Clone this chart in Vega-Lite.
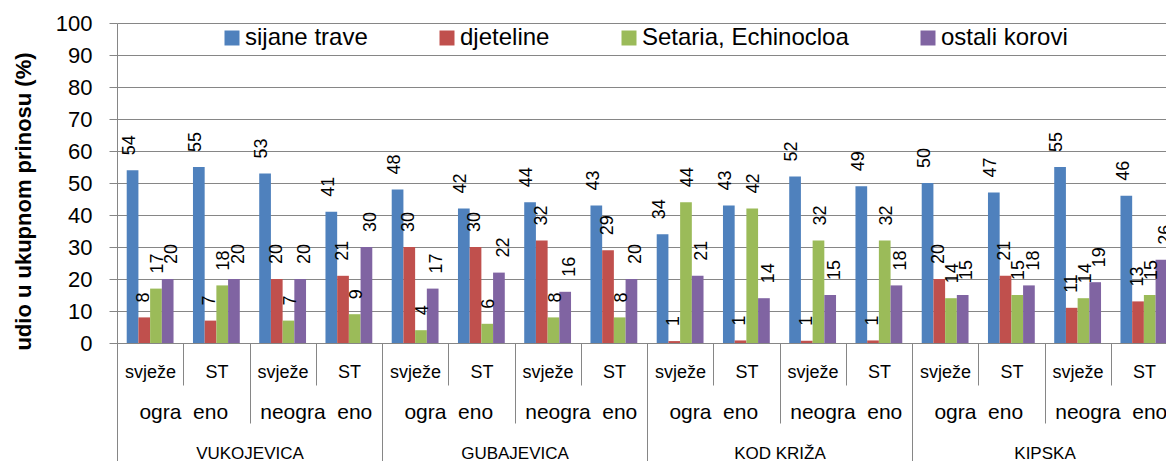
{
  "$schema": "https://vega.github.io/schema/vega-lite/v6.json",
  "width": 1060,
  "height": 320,
  "autosize": {"type": "none"},
  "padding": {"left": 117, "top": 23, "right": 0, "bottom": 118},
  "config": {
    "font": "Liberation Sans",
    "view": {"stroke": null},
    "axis": {"labelColor": "#000000", "titleColor": "#000000"},
    "axisQuantitative": {"tickCount": 10, "labelOverlap": false},
    "axisY": {"tickCount": 10, "labelOverlap": false},
    "legend": {"labelColor": "#000000"}
  },
  "datasets": {
    "d": [
      {"loc": "VUKOJEVICA", "fgroup": "VUKOJEVICA|ogra\u00a0\u00a0eno", "group": "VUKOJEVICA|o|svježe", "series": "sijane trave", "value": 54},
      {"loc": "VUKOJEVICA", "fgroup": "VUKOJEVICA|ogra\u00a0\u00a0eno", "group": "VUKOJEVICA|o|svježe", "series": "djeteline", "value": 8},
      {"loc": "VUKOJEVICA", "fgroup": "VUKOJEVICA|ogra\u00a0\u00a0eno", "group": "VUKOJEVICA|o|svježe", "series": "Setaria, Echinocloa", "value": 17},
      {"loc": "VUKOJEVICA", "fgroup": "VUKOJEVICA|ogra\u00a0\u00a0eno", "group": "VUKOJEVICA|o|svježe", "series": "ostali korovi", "value": 20},
      {"loc": "VUKOJEVICA", "fgroup": "VUKOJEVICA|ogra\u00a0\u00a0eno", "group": "VUKOJEVICA|o|ST", "series": "sijane trave", "value": 55},
      {"loc": "VUKOJEVICA", "fgroup": "VUKOJEVICA|ogra\u00a0\u00a0eno", "group": "VUKOJEVICA|o|ST", "series": "djeteline", "value": 7},
      {"loc": "VUKOJEVICA", "fgroup": "VUKOJEVICA|ogra\u00a0\u00a0eno", "group": "VUKOJEVICA|o|ST", "series": "Setaria, Echinocloa", "value": 18},
      {"loc": "VUKOJEVICA", "fgroup": "VUKOJEVICA|ogra\u00a0\u00a0eno", "group": "VUKOJEVICA|o|ST", "series": "ostali korovi", "value": 20},
      {"loc": "VUKOJEVICA", "fgroup": "VUKOJEVICA|neogra\u00a0\u00a0eno", "group": "VUKOJEVICA|n|svježe", "series": "sijane trave", "value": 53},
      {"loc": "VUKOJEVICA", "fgroup": "VUKOJEVICA|neogra\u00a0\u00a0eno", "group": "VUKOJEVICA|n|svježe", "series": "djeteline", "value": 20},
      {"loc": "VUKOJEVICA", "fgroup": "VUKOJEVICA|neogra\u00a0\u00a0eno", "group": "VUKOJEVICA|n|svježe", "series": "Setaria, Echinocloa", "value": 7},
      {"loc": "VUKOJEVICA", "fgroup": "VUKOJEVICA|neogra\u00a0\u00a0eno", "group": "VUKOJEVICA|n|svježe", "series": "ostali korovi", "value": 20},
      {"loc": "VUKOJEVICA", "fgroup": "VUKOJEVICA|neogra\u00a0\u00a0eno", "group": "VUKOJEVICA|n|ST", "series": "sijane trave", "value": 41},
      {"loc": "VUKOJEVICA", "fgroup": "VUKOJEVICA|neogra\u00a0\u00a0eno", "group": "VUKOJEVICA|n|ST", "series": "djeteline", "value": 21},
      {"loc": "VUKOJEVICA", "fgroup": "VUKOJEVICA|neogra\u00a0\u00a0eno", "group": "VUKOJEVICA|n|ST", "series": "Setaria, Echinocloa", "value": 9},
      {"loc": "VUKOJEVICA", "fgroup": "VUKOJEVICA|neogra\u00a0\u00a0eno", "group": "VUKOJEVICA|n|ST", "series": "ostali korovi", "value": 30},
      {"loc": "GUBAJEVICA", "fgroup": "GUBAJEVICA|ogra\u00a0\u00a0eno", "group": "GUBAJEVICA|o|svježe", "series": "sijane trave", "value": 48},
      {"loc": "GUBAJEVICA", "fgroup": "GUBAJEVICA|ogra\u00a0\u00a0eno", "group": "GUBAJEVICA|o|svježe", "series": "djeteline", "value": 30},
      {"loc": "GUBAJEVICA", "fgroup": "GUBAJEVICA|ogra\u00a0\u00a0eno", "group": "GUBAJEVICA|o|svježe", "series": "Setaria, Echinocloa", "value": 4},
      {"loc": "GUBAJEVICA", "fgroup": "GUBAJEVICA|ogra\u00a0\u00a0eno", "group": "GUBAJEVICA|o|svježe", "series": "ostali korovi", "value": 17},
      {"loc": "GUBAJEVICA", "fgroup": "GUBAJEVICA|ogra\u00a0\u00a0eno", "group": "GUBAJEVICA|o|ST", "series": "sijane trave", "value": 42},
      {"loc": "GUBAJEVICA", "fgroup": "GUBAJEVICA|ogra\u00a0\u00a0eno", "group": "GUBAJEVICA|o|ST", "series": "djeteline", "value": 30},
      {"loc": "GUBAJEVICA", "fgroup": "GUBAJEVICA|ogra\u00a0\u00a0eno", "group": "GUBAJEVICA|o|ST", "series": "Setaria, Echinocloa", "value": 6},
      {"loc": "GUBAJEVICA", "fgroup": "GUBAJEVICA|ogra\u00a0\u00a0eno", "group": "GUBAJEVICA|o|ST", "series": "ostali korovi", "value": 22},
      {"loc": "GUBAJEVICA", "fgroup": "GUBAJEVICA|neogra\u00a0\u00a0eno", "group": "GUBAJEVICA|n|svježe", "series": "sijane trave", "value": 44},
      {"loc": "GUBAJEVICA", "fgroup": "GUBAJEVICA|neogra\u00a0\u00a0eno", "group": "GUBAJEVICA|n|svježe", "series": "djeteline", "value": 32},
      {"loc": "GUBAJEVICA", "fgroup": "GUBAJEVICA|neogra\u00a0\u00a0eno", "group": "GUBAJEVICA|n|svježe", "series": "Setaria, Echinocloa", "value": 8},
      {"loc": "GUBAJEVICA", "fgroup": "GUBAJEVICA|neogra\u00a0\u00a0eno", "group": "GUBAJEVICA|n|svježe", "series": "ostali korovi", "value": 16},
      {"loc": "GUBAJEVICA", "fgroup": "GUBAJEVICA|neogra\u00a0\u00a0eno", "group": "GUBAJEVICA|n|ST", "series": "sijane trave", "value": 43},
      {"loc": "GUBAJEVICA", "fgroup": "GUBAJEVICA|neogra\u00a0\u00a0eno", "group": "GUBAJEVICA|n|ST", "series": "djeteline", "value": 29},
      {"loc": "GUBAJEVICA", "fgroup": "GUBAJEVICA|neogra\u00a0\u00a0eno", "group": "GUBAJEVICA|n|ST", "series": "Setaria, Echinocloa", "value": 8},
      {"loc": "GUBAJEVICA", "fgroup": "GUBAJEVICA|neogra\u00a0\u00a0eno", "group": "GUBAJEVICA|n|ST", "series": "ostali korovi", "value": 20},
      {"loc": "KOD KRIŽA", "fgroup": "KOD KRIŽA|ogra\u00a0\u00a0eno", "group": "KOD KRIŽA|o|svježe", "series": "sijane trave", "value": 34},
      {"loc": "KOD KRIŽA", "fgroup": "KOD KRIŽA|ogra\u00a0\u00a0eno", "group": "KOD KRIŽA|o|svježe", "series": "djeteline", "value": 0.6},
      {"loc": "KOD KRIŽA", "fgroup": "KOD KRIŽA|ogra\u00a0\u00a0eno", "group": "KOD KRIŽA|o|svježe", "series": "Setaria, Echinocloa", "value": 44},
      {"loc": "KOD KRIŽA", "fgroup": "KOD KRIŽA|ogra\u00a0\u00a0eno", "group": "KOD KRIŽA|o|svježe", "series": "ostali korovi", "value": 21},
      {"loc": "KOD KRIŽA", "fgroup": "KOD KRIŽA|ogra\u00a0\u00a0eno", "group": "KOD KRIŽA|o|ST", "series": "sijane trave", "value": 43},
      {"loc": "KOD KRIŽA", "fgroup": "KOD KRIŽA|ogra\u00a0\u00a0eno", "group": "KOD KRIŽA|o|ST", "series": "djeteline", "value": 0.8},
      {"loc": "KOD KRIŽA", "fgroup": "KOD KRIŽA|ogra\u00a0\u00a0eno", "group": "KOD KRIŽA|o|ST", "series": "Setaria, Echinocloa", "value": 42},
      {"loc": "KOD KRIŽA", "fgroup": "KOD KRIŽA|ogra\u00a0\u00a0eno", "group": "KOD KRIŽA|o|ST", "series": "ostali korovi", "value": 14},
      {"loc": "KOD KRIŽA", "fgroup": "KOD KRIŽA|neogra\u00a0\u00a0eno", "group": "KOD KRIŽA|n|svježe", "series": "sijane trave", "value": 52},
      {"loc": "KOD KRIŽA", "fgroup": "KOD KRIŽA|neogra\u00a0\u00a0eno", "group": "KOD KRIŽA|n|svježe", "series": "djeteline", "value": 0.7},
      {"loc": "KOD KRIŽA", "fgroup": "KOD KRIŽA|neogra\u00a0\u00a0eno", "group": "KOD KRIŽA|n|svježe", "series": "Setaria, Echinocloa", "value": 32},
      {"loc": "KOD KRIŽA", "fgroup": "KOD KRIŽA|neogra\u00a0\u00a0eno", "group": "KOD KRIŽA|n|svježe", "series": "ostali korovi", "value": 15},
      {"loc": "KOD KRIŽA", "fgroup": "KOD KRIŽA|neogra\u00a0\u00a0eno", "group": "KOD KRIŽA|n|ST", "series": "sijane trave", "value": 49},
      {"loc": "KOD KRIŽA", "fgroup": "KOD KRIŽA|neogra\u00a0\u00a0eno", "group": "KOD KRIŽA|n|ST", "series": "djeteline", "value": 0.8},
      {"loc": "KOD KRIŽA", "fgroup": "KOD KRIŽA|neogra\u00a0\u00a0eno", "group": "KOD KRIŽA|n|ST", "series": "Setaria, Echinocloa", "value": 32},
      {"loc": "KOD KRIŽA", "fgroup": "KOD KRIŽA|neogra\u00a0\u00a0eno", "group": "KOD KRIŽA|n|ST", "series": "ostali korovi", "value": 18},
      {"loc": "KIPSKA", "fgroup": "KIPSKA|ogra\u00a0\u00a0eno", "group": "KIPSKA|o|svježe", "series": "sijane trave", "value": 50},
      {"loc": "KIPSKA", "fgroup": "KIPSKA|ogra\u00a0\u00a0eno", "group": "KIPSKA|o|svježe", "series": "djeteline", "value": 20},
      {"loc": "KIPSKA", "fgroup": "KIPSKA|ogra\u00a0\u00a0eno", "group": "KIPSKA|o|svježe", "series": "Setaria, Echinocloa", "value": 14},
      {"loc": "KIPSKA", "fgroup": "KIPSKA|ogra\u00a0\u00a0eno", "group": "KIPSKA|o|svježe", "series": "ostali korovi", "value": 15},
      {"loc": "KIPSKA", "fgroup": "KIPSKA|ogra\u00a0\u00a0eno", "group": "KIPSKA|o|ST", "series": "sijane trave", "value": 47},
      {"loc": "KIPSKA", "fgroup": "KIPSKA|ogra\u00a0\u00a0eno", "group": "KIPSKA|o|ST", "series": "djeteline", "value": 21},
      {"loc": "KIPSKA", "fgroup": "KIPSKA|ogra\u00a0\u00a0eno", "group": "KIPSKA|o|ST", "series": "Setaria, Echinocloa", "value": 15},
      {"loc": "KIPSKA", "fgroup": "KIPSKA|ogra\u00a0\u00a0eno", "group": "KIPSKA|o|ST", "series": "ostali korovi", "value": 18},
      {"loc": "KIPSKA", "fgroup": "KIPSKA|neogra\u00a0\u00a0eno", "group": "KIPSKA|n|svježe", "series": "sijane trave", "value": 55},
      {"loc": "KIPSKA", "fgroup": "KIPSKA|neogra\u00a0\u00a0eno", "group": "KIPSKA|n|svježe", "series": "djeteline", "value": 11},
      {"loc": "KIPSKA", "fgroup": "KIPSKA|neogra\u00a0\u00a0eno", "group": "KIPSKA|n|svježe", "series": "Setaria, Echinocloa", "value": 14},
      {"loc": "KIPSKA", "fgroup": "KIPSKA|neogra\u00a0\u00a0eno", "group": "KIPSKA|n|svježe", "series": "ostali korovi", "value": 19},
      {"loc": "KIPSKA", "fgroup": "KIPSKA|neogra\u00a0\u00a0eno", "group": "KIPSKA|n|ST", "series": "sijane trave", "value": 46},
      {"loc": "KIPSKA", "fgroup": "KIPSKA|neogra\u00a0\u00a0eno", "group": "KIPSKA|n|ST", "series": "djeteline", "value": 13},
      {"loc": "KIPSKA", "fgroup": "KIPSKA|neogra\u00a0\u00a0eno", "group": "KIPSKA|n|ST", "series": "Setaria, Echinocloa", "value": 15},
      {"loc": "KIPSKA", "fgroup": "KIPSKA|neogra\u00a0\u00a0eno", "group": "KIPSKA|n|ST", "series": "ostali korovi", "value": 26}
    ]
  },
  "data": {"name": "d"},
  "layer": [
    {
      "mark": {"type": "bar"},
      "encoding": {
        "x": {
          "field": "group", "type": "nominal", "sort": null,
          "scale": {"type": "band", "paddingInner": 0, "paddingOuter": 0},
          "axis": {
            "title": null, "orient": "bottom",
            "labelExpr": "split(datum.label, '|')[2]",
            "tickBand": "extent", "tickSize": 42, "tickColor": "#868686",
            "domainColor": "#868686", "labelFontSize": 18,
            "labelBaseline": "middle", "labelPadding": -13, "labelAngle": 0,
            "grid": false
          }
        },
        "xOffset": {
          "field": "series", "type": "nominal",
          "sort": ["sijane trave", "djeteline", "Setaria, Echinocloa", "ostali korovi"],
          "scale": {"paddingInner": 0, "paddingOuter": 0.83}
        },
        "y": {
          "field": "value", "type": "quantitative",
          "scale": {"domain": [0, 100], "nice": false},
          "axis": {
            "title": "udio u ukupnom prinosu (%)",
            "titleFontSize": 22, "titleFontWeight": "bold",
            "titlePadding": 20, "titleY": 178,
            "tickCount": {"signal": "10"},
            "grid": true,
            "labelOverlap": false,
            "tickSize": 8, "tickColor": "#868686",
            "domainColor": "#868686", "gridColor": "#868686",
            "labelFontSize": 22, "labelPadding": 17
          }
        },
        "color": {
          "field": "series", "type": "nominal",
          "scale": {
            "domain": ["sijane trave", "djeteline", "Setaria, Echinocloa", "ostali korovi"],
            "range": ["#4F81BD", "#C0504D", "#9BBB59", "#8064A2"]
          },
          "legend": {
            "orient": "none", "legendX": 103, "legendY": 3,
            "direction": "horizontal", "columns": 4, "title": null,
            "symbolType": "square", "symbolSize": 225, "symbolStrokeWidth": 0,
            "labelFontSize": 24, "labelLimit": 400, "labelOffset": 1,
            "columnPadding": 67
          }
        }
      }
    },
    {
      "mark": {"type": "text", "angle": 270, "align": "left", "baseline": "middle", "dx": 15, "dy": 1, "fontSize": 18, "color": "#000000"},
      "encoding": {
        "x": {
          "field": "group", "type": "nominal", "sort": null,
          "scale": {"type": "band", "paddingInner": 0, "paddingOuter": 0},
          "axis": null
        },
        "xOffset": {
          "field": "series", "type": "nominal",
          "sort": ["sijane trave", "djeteline", "Setaria, Echinocloa", "ostali korovi"],
          "scale": {"paddingInner": 0, "paddingOuter": 0.83}
        },
        "y": {"field": "value", "type": "quantitative"},
        "text": {"field": "value", "type": "quantitative", "format": ".0f"}
      }
    },
    {
      "mark": {"type": "rule", "opacity": 0},
      "encoding": {
        "x": {
          "field": "fgroup", "type": "nominal", "sort": null,
          "scale": {"type": "band", "paddingInner": 0, "paddingOuter": 0},
          "axis": {
            "title": null, "orient": "bottom",
            "labelExpr": "split(datum.label, '|')[1]",
            "tickBand": "extent", "tickSize": 80, "tickColor": "#868686",
            "domain": false, "labelFontSize": 21,
            "labelBaseline": "middle", "labelPadding": -11, "labelAngle": 0,
            "grid": false
          }
        }
      }
    },
    {
      "mark": {"type": "rule", "opacity": 0},
      "encoding": {
        "x": {
          "field": "loc", "type": "nominal", "sort": null,
          "scale": {"type": "band", "paddingInner": 0, "paddingOuter": 0},
          "axis": {
            "title": null, "orient": "bottom",
            "tickBand": "extent", "tickSize": 118, "tickColor": "#868686",
            "domain": false, "labelFontSize": 17,
            "labelBaseline": "middle", "labelPadding": -8, "labelAngle": 0,
            "grid": false
          }
        }
      }
    }
  ],
  "resolve": {"scale": {"x": "independent", "xOffset": "independent"}, "axis": {"x": "independent"}}
}
